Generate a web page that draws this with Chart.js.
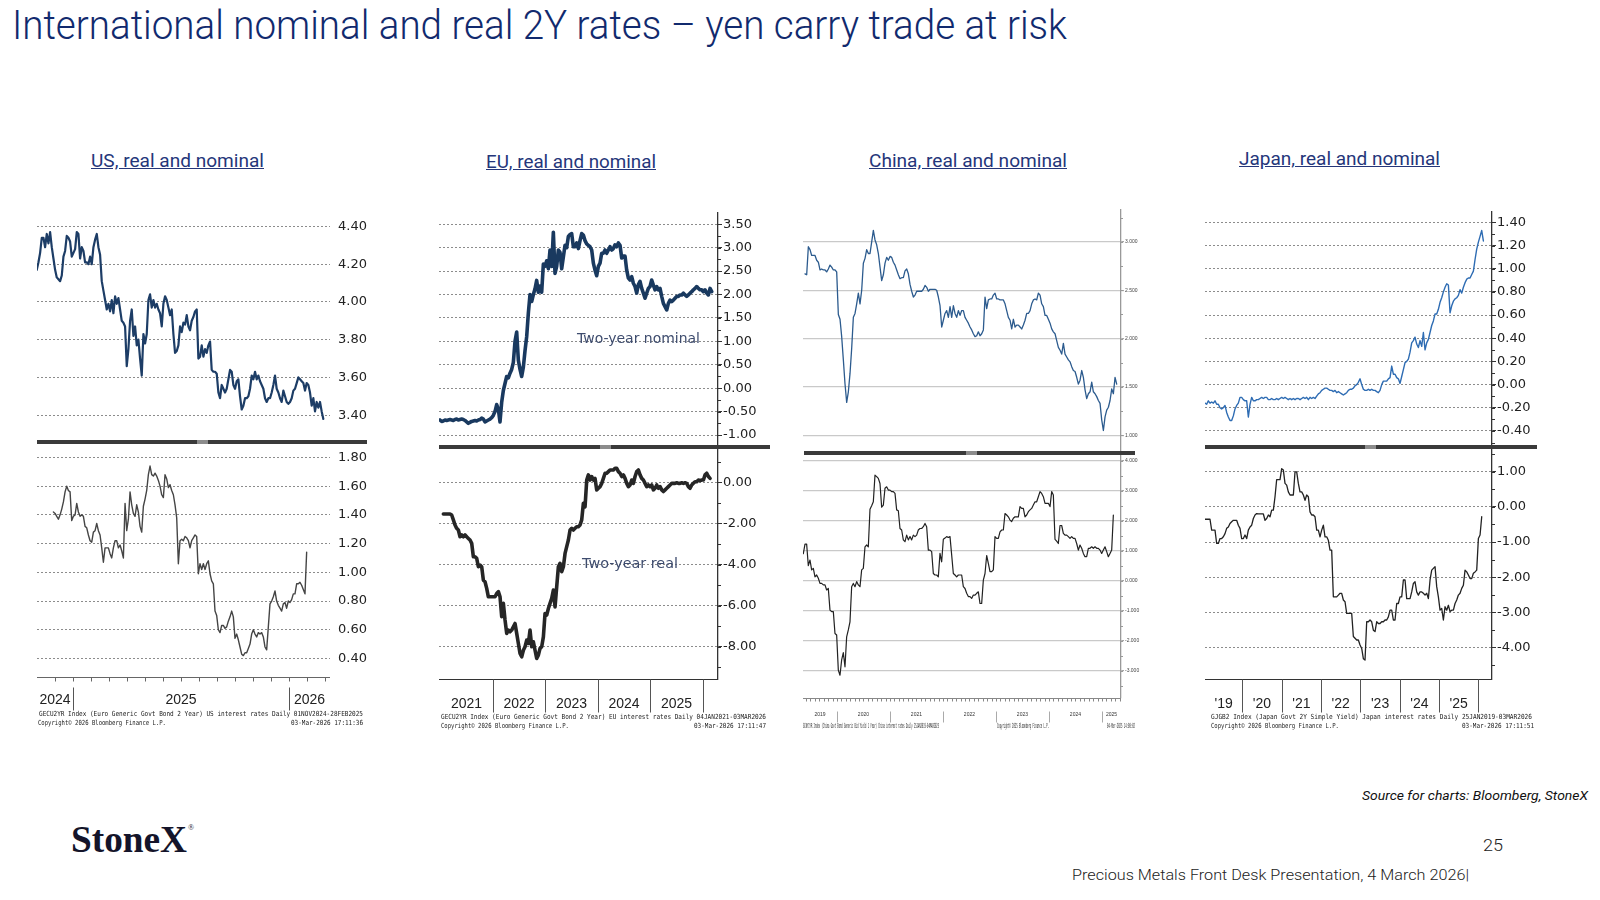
<!DOCTYPE html>
<html><head><meta charset="utf-8">
<script src="https://cdn.jsdelivr.net/npm/chart.js@4.4.1/dist/chart.umd.min.js"></script>
<style>
html,body{margin:0;padding:0}
body{width:1600px;height:900px;background:#fff;position:relative;overflow:hidden;font-family:Roboto,"Open Sans",sans-serif}
.t{position:absolute;white-space:nowrap;line-height:1;transform-origin:0 0}
canvas{position:absolute}
.bar{position:absolute;height:4px;background:#3a3a3a}
.knob{position:absolute;height:4px;background:#8c8c8c}
.bb{font-family:"DejaVu Sans Mono",monospace;color:#222;font-size:7px}
</style></head><body>

<div class="t" data-w="1055" style="left:12px;top:5px;font-size:41px;font-weight:300;color:#112a6e">International nominal and real 2Y rates – yen carry trade at risk</div>

<div class="t" data-w="173" style="left:91px;top:151px;font-size:19px;color:#25367a;text-decoration:underline">US, real and nominal</div>
<div class="t" data-w="170" style="left:486px;top:152px;font-size:19px;color:#25367a;text-decoration:underline">EU, real and nominal</div>
<div class="t" data-w="198" style="left:869px;top:151px;font-size:19px;color:#25367a;text-decoration:underline">China, real and nominal</div>
<div class="t" data-w="201" style="left:1239px;top:149px;font-size:19px;color:#25367a;text-decoration:underline">Japan, real and nominal</div>

<div class="t" data-w="226" style="left:1362px;top:789px;font-size:13px;font-style:italic;color:#111">Source for charts: Bloomberg, StoneX</div>
<div class="t" data-w="116" style="left:71px;top:820px;font-size:38px;font-weight:bold;font-family:'Liberation Serif',serif;color:#14142a">StoneX</div>
<div class="t" style="left:188px;top:824px;font-size:8px;font-family:'Liberation Serif',serif;color:#1b1b2f">®</div>
<div class="t" data-w="20" style="left:1483px;top:837px;font-size:17px;font-weight:300;color:#222">25</div>
<div class="t" data-w="397" style="left:1072px;top:868px;font-size:15px;font-weight:300;color:#222">Precious Metals Front Desk Presentation, 4 March 2026|</div>

<script>
// ---------------- DATA ----------------
// x positions are fractional years; each series is sampled at a regular step
const usStep = 0.007716;
const usNomStart = 2024.832;
const usNominal = [
4.17,4.21,4.26,4.34,4.34,4.29,4.36,4.31,4.37,4.29,
4.23,4.17,4.13,4.12,4.11,4.14,4.24,4.27,4.35,4.34,
4.32,4.24,4.26,4.28,4.37,4.36,4.23,4.29,4.27,4.21,
4.21,4.20,4.24,4.20,4.29,4.33,4.36,4.29,4.25,4.11,
4.06,4.01,3.96,3.99,3.95,4.01,3.94,4.03,3.99,4.02,
3.96,3.90,3.89,3.87,3.66,3.75,3.90,3.96,3.82,3.87,
3.77,3.80,3.70,3.61,3.83,3.78,3.83,4.01,4.04,3.97,
4.01,3.97,3.99,3.96,3.94,3.87,3.99,4.03,4.01,3.97,
3.93,3.96,3.83,3.73,3.74,3.77,3.87,3.84,3.89,3.88,
3.93,3.87,3.85,3.90,3.92,3.95,3.96,3.70,3.71,3.77,
3.71,3.75,3.73,3.77,3.79,3.64,3.63,3.63,3.62,3.52,
3.49,3.56,3.54,3.52,3.54,3.59,3.64,3.63,3.56,3.54,
3.58,3.59,3.50,3.43,3.45,3.49,3.49,3.50,3.54,3.61,
3.59,3.63,3.59,3.61,3.58,3.56,3.54,3.49,3.47,3.49,
3.49,3.52,3.56,3.61,3.54,3.52,3.49,3.47,3.53,3.50,
3.47,3.46,3.47,3.49,3.53,3.54,3.57,3.60,3.59,3.58,
3.57,3.53,3.57,3.56,3.52,3.45,3.49,3.42,3.47,3.44,
3.47,3.42,3.38];
const usRealStart = 2024.909;
const usReal = [
1.42,1.41,1.39,1.37,1.40,1.44,1.49,1.56,1.60,1.57,
1.56,1.36,1.39,1.40,1.48,1.42,1.39,1.40,1.39,1.32,
1.31,1.26,1.22,1.21,1.28,1.29,1.34,1.29,1.26,1.17,
1.07,1.17,1.17,1.17,1.13,1.10,1.17,1.22,1.22,1.17,
1.19,1.15,1.10,1.48,1.29,1.37,1.56,1.47,1.41,1.39,
1.47,1.42,1.32,1.28,1.46,1.51,1.57,1.68,1.74,1.68,
1.67,1.69,1.67,1.64,1.60,1.54,1.52,1.68,1.65,1.59,
1.61,1.57,1.54,1.47,1.38,1.06,1.22,1.23,1.22,1.25,
1.24,1.22,1.17,1.22,1.24,1.26,1.25,0.99,1.06,1.02,
1.06,1.02,1.06,1.08,0.99,0.94,0.92,0.73,0.70,0.60,
0.58,0.63,0.63,0.61,0.62,0.66,0.69,0.73,0.69,0.54,
0.57,0.53,0.48,0.43,0.42,0.44,0.44,0.47,0.50,0.57,
0.60,0.57,0.55,0.58,0.57,0.58,0.55,0.48,0.46,0.62,
0.78,0.80,0.83,0.87,0.80,0.77,0.75,0.73,0.78,0.79,
0.75,0.80,0.79,0.81,0.85,0.85,0.92,0.92,0.93,0.91,
0.88,0.85,1.14];
const usNomTicks = [3.40,3.60,3.80,4.00,4.20,4.40];
const usRealTicks = [0.40,0.60,0.80,1.00,1.20,1.40,1.60,1.80];
const usYears = [2024,2025,2026];
const usYearLabels = ['2024','2025','2026'];
const usBreaks = [2025,2026];

const euStep = 0.03175;
const euNomStart = 2020.996;
const euNominal = [
-0.68,-0.71,-0.70,-0.68,-0.69,-0.68,-0.67,-0.68,-0.69,-0.67,
-0.66,-0.68,-0.67,-0.66,-0.67,-0.69,-0.72,-0.75,-0.73,-0.71,
-0.70,-0.69,-0.70,-0.68,-0.67,-0.64,-0.66,-0.72,-0.70,-0.68,
-0.66,-0.63,-0.58,-0.50,-0.35,-0.45,-0.72,-0.30,-0.05,0.10,
0.25,0.22,0.32,0.40,0.55,1.00,1.20,0.60,0.40,0.25,
0.45,0.80,1.10,1.60,2.00,1.85,2.00,2.12,2.30,2.05,
2.18,2.05,2.65,2.60,2.72,2.55,2.95,2.60,3.33,2.45,
2.60,2.95,2.90,2.55,2.80,3.05,3.00,3.24,3.28,3.30,
3.02,3.02,3.10,2.98,3.15,3.30,3.27,3.15,3.08,3.05,
3.02,2.95,2.67,2.52,2.40,2.60,2.67,2.88,2.88,2.95,
2.88,2.95,3.02,2.95,2.98,3.06,3.02,3.10,3.05,2.78,
2.82,2.82,2.52,2.35,2.31,2.38,2.24,2.17,2.03,2.21,
2.28,2.13,2.03,1.92,2.03,2.13,2.17,2.31,2.20,2.10,
2.17,2.10,2.13,1.96,1.81,1.74,1.67,1.81,1.88,1.85,
1.88,1.92,1.96,1.96,1.99,1.99,2.03,1.99,1.96,1.99,
2.03,2.06,2.10,2.13,2.17,2.13,2.10,2.10,2.06,2.10,
2.03,1.99,2.13,2.06];
const euRealStart = 2021.060;
const euReal = [
-1.54,-1.54,-1.54,-1.54,-1.54,-1.59,-1.83,-2.08,-2.24,-2.32,
-2.65,-2.56,-2.65,-2.56,-2.65,-2.73,-2.81,-2.97,-3.62,-3.62,
-3.70,-4.11,-4.03,-4.11,-4.76,-4.84,-5.16,-5.57,-5.57,-5.57,
-5.57,-5.57,-5.41,-5.32,-5.57,-6.54,-5.89,-6.70,-7.35,-7.19,
-7.27,-7.19,-7.03,-6.87,-7.35,-7.84,-8.33,-8.49,-8.17,-8.00,
-7.68,-7.84,-7.19,-8.00,-7.76,-8.17,-8.57,-8.41,-8.08,-8.00,
-7.52,-6.38,-6.46,-6.14,-5.89,-5.65,-5.24,-6.06,-5.08,-4.11,
-3.94,-4.35,-4.11,-3.46,-3.13,-2.81,-2.32,-2.24,-2.32,-2.24,
-2.16,-2.16,-2.08,-1.83,-1.02,-1.19,0.11,0.36,0.11,0.28,
0.11,0.19,-0.37,-0.29,-0.21,-0.05,0.19,0.44,0.44,0.52,
0.60,0.60,0.60,0.68,0.68,0.52,0.44,0.28,0.36,0.19,
-0.05,-0.21,-0.13,0.11,-0.05,0.28,0.52,0.60,0.36,0.19,
0.11,-0.05,-0.21,-0.13,-0.21,-0.13,-0.37,-0.29,-0.13,-0.29,
-0.21,-0.37,-0.45,-0.37,-0.29,-0.21,-0.13,-0.05,-0.05,-0.05,
-0.02,-0.05,-0.05,-0.02,-0.05,-0.02,-0.05,-0.21,-0.29,-0.13,
-0.05,0.03,0.03,0.11,0.08,0.11,0.11,0.36,0.44,0.28,
0.19];
const euNomTicks = [-1.00,-0.50,0.00,0.50,1.00,1.50,2.00,2.50,3.00,3.50];
const euRealTicks = [-8.00,-6.00,-4.00,-2.00,0.00];
const euYears = [2021,2022,2023,2024,2025];
const euYearLabels = ['2021','2022','2023','2024','2025'];
const euBreaks = [2022,2023,2024,2025,2026];

const cnStep = 0.03145;
const cnNomStart = 2019.398;
const cnNominal = [
2.67,2.66,2.95,2.92,2.86,2.86,2.86,2.81,2.79,2.71,
2.72,2.71,2.71,2.69,2.72,2.76,2.74,2.71,2.71,2.69,
2.25,2.20,2.02,1.78,1.53,1.34,1.45,1.64,1.90,2.22,
2.26,2.36,2.47,2.36,2.50,2.78,2.83,2.92,2.88,2.88,
3.00,3.12,3.02,2.97,2.88,2.74,2.60,2.66,2.78,2.84,
2.81,2.85,2.84,2.79,2.76,2.71,2.66,2.62,2.63,2.63,
2.70,2.72,2.67,2.56,2.49,2.43,2.45,2.49,2.49,2.49,
2.49,2.51,2.55,2.53,2.49,2.51,2.51,2.51,2.51,2.50,
2.43,2.34,2.12,2.19,2.26,2.29,2.22,2.33,2.22,2.34,
2.26,2.22,2.29,2.24,2.29,2.29,2.22,2.19,2.16,2.12,
2.09,2.05,2.02,2.03,2.07,2.03,2.05,2.09,2.43,2.31,
2.40,2.41,2.41,2.45,2.47,2.41,2.41,2.40,2.40,2.40,
2.36,2.29,2.22,2.19,2.10,2.20,2.12,2.14,2.14,2.12,
2.10,2.14,2.19,2.26,2.26,2.29,2.36,2.40,2.41,2.40,
2.47,2.45,2.36,2.33,2.24,2.24,2.20,2.16,2.10,2.07,
2.05,1.98,1.91,1.88,1.84,1.95,1.84,1.81,1.78,1.76,
1.71,1.67,1.66,1.60,1.53,1.57,1.67,1.60,1.47,1.38,
1.43,1.45,1.55,1.45,1.43,1.40,1.36,1.33,1.16,1.05,
1.19,1.26,1.29,1.36,1.48,1.43,1.60,1.53];
const cnRealStart = 2019.366;
const cnReal = [
0.90,1.22,1.22,0.50,0.69,0.36,0.41,0.13,0.19,0.08,
-0.09,-0.09,-0.14,-0.14,-0.31,-0.26,-0.98,-1.03,-1.03,-1.76,
-1.81,-2.98,-3.15,-2.64,-2.40,-2.87,-1.87,-1.64,-1.37,-0.20,
-0.09,-0.20,-0.03,-0.14,-0.20,0.36,0.41,1.13,1.19,1.13,
2.38,2.50,2.63,3.52,3.47,3.41,3.24,2.45,2.52,3.08,
3.13,3.02,3.02,2.97,2.97,2.91,2.36,2.33,1.74,1.69,
1.36,1.30,1.52,1.36,1.47,1.36,1.52,1.47,1.52,1.69,
1.74,1.74,1.80,1.91,1.80,1.02,1.02,0.97,0.24,0.19,
0.19,0.13,0.91,0.63,1.38,1.42,1.47,1.44,1.47,0.86,
0.24,0.19,0.13,0.19,0.19,0.19,-0.20,-0.26,-0.42,-0.53,
-0.53,-0.59,-0.48,-0.48,-0.42,-0.37,-0.76,-0.76,0.02,0.24,
0.84,0.58,0.30,0.30,0.36,1.47,1.41,1.41,1.63,1.69,
1.69,2.24,2.19,2.13,2.02,1.97,2.08,2.13,2.13,2.13,
2.47,2.41,2.41,2.13,2.19,2.30,2.36,2.41,2.52,2.63,
2.63,2.80,2.97,2.91,2.80,2.58,2.58,2.58,2.47,2.97,
2.86,1.38,1.32,1.24,1.84,1.84,1.58,1.52,1.52,1.47,
1.41,1.47,1.41,1.41,1.24,1.02,1.19,1.08,0.91,0.80,
0.80,1.08,1.08,1.13,1.08,1.13,1.08,1.08,1.02,0.91,
1.02,1.13,0.97,0.80,0.91,1.02,2.19];
const cnNomTicks = [1.0,1.5,2.0,2.5,3.0];
const cnRealTicks = [-3,-2,-1,0,1,2,3,4];
const cnYears = [2019,2020,2021,2022,2023,2024,2025];
const cnYearLabels = ['2019','2020','2021','2022','2023','2024','2025'];
const cnBreaks = [2020,2021,2022,2023,2024,2025];

const jpStep = 0.04236;
const jpStart = 2019.052;
const jpNominal = [
-0.16,-0.17,-0.14,-0.16,-0.15,-0.16,-0.14,-0.17,-0.17,-0.20,
-0.21,-0.20,-0.18,-0.24,-0.28,-0.31,-0.31,-0.27,-0.21,-0.18,
-0.16,-0.11,-0.11,-0.13,-0.14,-0.14,-0.28,-0.17,-0.11,-0.14,
-0.14,-0.13,-0.13,-0.12,-0.11,-0.12,-0.11,-0.11,-0.13,-0.13,
-0.12,-0.13,-0.13,-0.12,-0.13,-0.12,-0.11,-0.12,-0.11,-0.12,
-0.13,-0.12,-0.13,-0.12,-0.13,-0.12,-0.12,-0.13,-0.12,-0.11,
-0.12,-0.11,-0.13,-0.11,-0.12,-0.11,-0.12,-0.10,-0.08,-0.07,
-0.05,-0.04,-0.03,-0.03,-0.04,-0.05,-0.05,-0.06,-0.05,-0.07,
-0.06,-0.07,-0.08,-0.09,-0.08,-0.07,-0.05,-0.04,-0.04,-0.03,
-0.01,0.00,0.02,0.05,0.00,-0.04,-0.05,-0.05,-0.04,-0.05,
-0.04,-0.05,-0.05,-0.06,-0.07,-0.05,0.00,0.03,0.03,0.03,
0.05,0.06,0.16,0.09,0.09,0.06,0.05,0.01,0.07,0.13,
0.19,0.20,0.22,0.28,0.36,0.38,0.41,0.35,0.32,0.38,
0.33,0.45,0.30,0.36,0.39,0.45,0.51,0.55,0.61,0.61,
0.65,0.71,0.75,0.80,0.84,0.87,0.86,0.62,0.68,0.72,
0.74,0.75,0.77,0.82,0.79,0.84,0.88,0.91,0.92,0.92,
0.95,0.98,1.08,1.17,1.23,1.28,1.33,1.24];
const jpReal = [
-0.35,-0.35,-0.35,-0.35,-0.66,-0.66,-0.66,-1.04,-1.04,-0.90,
-0.90,-0.85,-0.76,-0.61,-0.57,-0.47,-0.42,-0.38,-0.38,-0.38,
-0.52,-0.61,-0.90,-0.90,-0.80,-0.90,-0.66,-0.57,-0.52,-0.33,
-0.23,-0.19,-0.20,-0.20,-0.20,-0.20,-0.38,-0.33,-0.23,-0.28,
-0.09,-0.09,0.29,0.78,0.78,0.78,1.09,1.05,0.67,0.62,
0.43,0.34,0.34,0.34,1.00,1.00,0.67,0.43,0.43,0.34,
0.19,0.34,0.29,-0.14,-0.23,-0.23,-0.28,-0.66,-0.66,-0.85,
-0.66,-0.52,-0.85,-0.85,-0.95,-1.23,-1.23,-2.56,-2.56,-2.56,
-2.51,-2.46,-2.46,-2.65,-2.70,-3.03,-3.03,-3.03,-3.03,-3.69,
-3.74,-3.79,-3.79,-3.93,-4.03,-4.32,-4.36,-3.27,-3.27,-3.22,
-3.27,-3.51,-3.55,-3.27,-3.32,-3.32,-3.27,-3.27,-3.22,-3.22,
-3.13,-2.94,-2.94,-3.22,-3.22,-2.75,-2.75,-2.56,-2.56,-2.08,
-2.08,-2.61,-2.61,-2.61,-2.42,-2.18,-2.13,-2.42,-2.51,-2.42,
-2.42,-2.46,-2.51,-2.46,-2.61,-2.08,-1.80,-1.75,-1.70,-2.27,
-2.56,-2.94,-2.89,-3.22,-2.84,-2.94,-2.80,-2.98,-2.94,-2.94,
-2.75,-2.65,-2.51,-2.46,-2.32,-2.23,-1.80,-1.85,-1.94,-2.04,
-2.04,-1.89,-1.85,-1.80,-0.90,-0.80,-0.28];
const jpNomTicks = [-0.40,-0.20,0.00,0.20,0.40,0.60,0.80,1.00,1.20,1.40];
const jpRealTicks = [-4.00,-3.00,-2.00,-1.00,0.00,1.00];
const jpYears = [2019,2020,2021,2022,2023,2024,2025];
const jpYearLabels = ["'19","'20","'21","'22","'23","'24","'25"];
const jpBreaks = [2020,2021,2022,2023,2024,2025,2026];

// ---------------- RENDERING ----------------
const deco = {
  id: 'deco',
  afterDraw(chart, args, o) {
    if (!o) return;
    const ctx = chart.ctx, ca = chart.chartArea, xs = chart.scales.x, ys = chart.scales.y;
    ctx.save();
    if (o.minorStep) {
      ctx.strokeStyle = o.axisColor; ctx.lineWidth = 1;
      const n0 = Math.ceil(ys.min / o.minorStep - 1e-9), n1 = Math.floor(ys.max / o.minorStep + 1e-9);
      for (let k = n0; k <= n1; k++) {
        const y = Math.round(ys.getPixelForValue(k * o.minorStep)) + 0.5;
        ctx.beginPath(); ctx.moveTo(ca.right, y); ctx.lineTo(ca.right + o.minorLen, y); ctx.stroke();
      }
    }
    const b = o.bottom;
    if (b) {
      const y0 = Math.round(ca.bottom) + 0.5;
      ctx.strokeStyle = b.color; ctx.lineWidth = 1;
      ctx.beginPath(); ctx.moveTo(ca.left, y0); ctx.lineTo(ca.right, y0); ctx.stroke();
      if (b.monthTicks) {
        const m0 = Math.ceil(xs.min * 12 - 1e-6), m1 = Math.floor(xs.max * 12 + 1e-6);
        for (let m = m0; m <= m1; m++) {
          const x = Math.round(xs.getPixelForValue(m / 12)) + 0.5;
          if (x <= ca.left + 1 || x >= ca.right) continue;
          ctx.beginPath(); ctx.moveTo(x, y0); ctx.lineTo(x, y0 + b.monthTicks); ctx.stroke();
        }
      }
      ctx.strokeStyle = b.sepColor;
      for (const yr of b.breaks) {
        const x = Math.round(xs.getPixelForValue(yr)) + 0.5;
        ctx.beginPath(); ctx.moveTo(x, y0 + b.sepFrom); ctx.lineTo(x, y0 + b.sepTo); ctx.stroke();
      }
      ctx.fillStyle = b.labelColor; ctx.font = b.font; ctx.textAlign = 'center'; ctx.textBaseline = 'middle';
      b.labels.forEach((lab, i) => {
        const a = Math.max(b.years[i], xs.min), c = Math.min(b.years[i] + 1, xs.max);
        ctx.fillText(lab, xs.getPixelForValue((a + c) / 2), y0 + b.labelY);
      });
    }
    ctx.restore();
  }
};

function toPoints(start, step, values) {
  return values.map((v, i) => ({x: start + i * step, y: v}));
}

function makeChart(c) {
  const padT = 14, padB = c.bottom ? 45 : 14;
  const cv = document.createElement('canvas');
  const W = c.r - c.l + c.aw + 4;
  const H = c.b - c.t + padT + padB;
  cv.width = W; cv.height = H;
  cv.style.left = c.l + 'px'; cv.style.top = (c.t - padT) + 'px';
  cv.style.width = W + 'px'; cv.style.height = H + 'px';
  document.body.appendChild(cv);
  new Chart(cv.getContext('2d'), {
    type: 'line',
    data: {datasets: [{data: c.data, borderColor: c.color, borderWidth: c.lw, pointRadius: 0,
      tension: 0, fill: false, borderJoinStyle: 'round', borderCapStyle: 'round'}]},
    options: {
      responsive: false, animation: false, devicePixelRatio: 1, events: [],
      layout: {padding: {left: 0, right: 4, top: padT, bottom: padB}},
      plugins: {legend: {display: false}, tooltip: {enabled: false}, deco: c.deco},
      scales: {
        x: {type: 'linear', display: false, min: c.xMin, max: c.xMax},
        y: {
          position: 'right', min: c.yMin, max: c.yMax,
          afterFit: s => { s.width = c.aw; },
          afterBuildTicks: s => { s.ticks = c.ticks.map(v => ({value: v})); },
          ticks: {autoSkip: false, font: c.font, color: c.labelColor || '#222', padding: c.labelPad,
                  callback: v => Number(v).toFixed(c.dec)},
          grid: {color: c.gridColor, lineWidth: c.gridWidth || 1, drawTicks: c.tickLen > 0,
                 tickLength: c.tickLen, tickColor: c.axisColor, tickWidth: 1},
          border: {display: c.axisLine, color: c.axisColor, width: 1.3, dash: c.dash}
        }
      }
    },
    plugins: [deco]
  });
}

const dejavu13 = {family: 'DejaVu Sans', size: 13};
const dotted = [2, 2];

// US
makeChart({l: 37, r: 330, t: 205, b: 440, aw: 40, xMin: 2024.833, xMax: 2026.190, yMin: 3.278, yMax: 4.504,
  ticks: usNomTicks, dec: 2, data: toPoints(usNomStart, usStep, usNominal), color: '#1d3d66', lw: 2.2,
  font: dejavu13, labelPad: 8, gridColor: '#8c8c8c', dash: dotted, axisLine: false, tickLen: 0, axisColor: '#555'});
makeChart({l: 37, r: 330, t: 446, b: 677, aw: 40, xMin: 2024.833, xMax: 2026.190, yMin: 0.271, yMax: 1.867,
  ticks: usRealTicks, dec: 2, data: toPoints(usRealStart, usStep, usReal), color: '#454545', lw: 1.4,
  font: dejavu13, labelPad: 8, gridColor: '#8c8c8c', dash: dotted, axisLine: false, tickLen: 0, axisColor: '#555',
  bottom: true,
  deco: {bottom: {color: '#666', monthTicks: 4, breaks: usBreaks, sepColor: '#555', sepFrom: 10, sepTo: 33,
    years: usYears, labels: usYearLabels, labelY: 23, font: '14px "Liberation Sans"', labelColor: '#222'}}});

// EU
makeChart({l: 439, r: 718, t: 213, b: 447, aw: 45, xMin: 2020.977, xMax: 2026.291, yMin: -1.256, yMax: 3.74,
  ticks: euNomTicks, dec: 2, data: toPoints(euNomStart, euStep, euNominal), color: '#19395f', lw: 3.6,
  font: dejavu13, labelPad: 1, gridColor: '#8c8c8c', dash: dotted, axisLine: true, tickLen: 4, axisColor: '#333',
  deco: {minorStep: 0.25, minorLen: 3, axisColor: '#333'}});
makeChart({l: 439, r: 718, t: 449, b: 679, aw: 45, xMin: 2020.977, xMax: 2026.291, yMin: -9.57, yMax: 1.62,
  ticks: euRealTicks, dec: 2, data: toPoints(euRealStart, euStep, euReal), color: '#262626', lw: 3.6,
  font: dejavu13, labelPad: 1, gridColor: '#8c8c8c', dash: dotted, axisLine: true, tickLen: 4, axisColor: '#333',
  bottom: true,
  deco: {minorStep: 1, minorLen: 3, axisColor: '#333',
    bottom: {color: '#333', monthTicks: 0, breaks: euBreaks, sepColor: '#555', sepFrom: 0, sepTo: 33,
      years: euYears, labels: euYearLabels, labelY: 25, font: '14px "Liberation Sans"', labelColor: '#222'}}});

// China
const tiny = {family: 'Liberation Sans', size: 5};
makeChart({l: 803, r: 1121, t: 210, b: 453, aw: 25, xMin: 2019.36, xMax: 2025.36, yMin: 0.817, yMax: 3.33,
  ticks: cnNomTicks, dec: 3, data: toPoints(cnNomStart, cnStep, cnNominal), color: '#2c5b8e', lw: 1.3,
  font: tiny, labelColor: '#444', labelPad: 1, gridColor: '#c9c9c9', gridWidth: 1.3, dash: [], axisLine: true,
  tickLen: 3, axisColor: '#999', deco: {minorStep: 0.25, minorLen: 2, axisColor: '#999'}});
makeChart({l: 803, r: 1121, t: 455, b: 698, aw: 25, xMin: 2019.36, xMax: 2025.36, yMin: -3.91, yMax: 4.19,
  ticks: cnRealTicks, dec: 3, data: toPoints(cnRealStart, cnStep, cnReal), color: '#222', lw: 1.2,
  font: tiny, labelColor: '#444', labelPad: 1, gridColor: '#c9c9c9', gridWidth: 1.3, dash: [], axisLine: true,
  tickLen: 3, axisColor: '#999', bottom: true,
  deco: {minorStep: 0.5, minorLen: 2, axisColor: '#999',
    bottom: {color: '#888', monthTicks: 3, breaks: cnBreaks, sepColor: '#aaa', sepFrom: 13, sepTo: 24,
      years: cnYears, labels: cnYearLabels, labelY: 16, font: '5px "Liberation Sans"', labelColor: '#333'}}});

// Japan
makeChart({l: 1205, r: 1492, t: 212, b: 446, aw: 45, xMin: 2019.052, xMax: 2026.345, yMin: -0.53, yMax: 1.49,
  ticks: jpNomTicks, dec: 2, data: toPoints(jpStart, jpStep, jpNominal), color: '#2e6cb3', lw: 1.4,
  font: dejavu13, labelPad: 1, gridColor: '#8c8c8c', dash: dotted, axisLine: true, tickLen: 4, axisColor: '#333',
  deco: {minorStep: 0.1, minorLen: 3, axisColor: '#333'}});
makeChart({l: 1205, r: 1492, t: 449, b: 679, aw: 45, xMin: 2019.052, xMax: 2026.345, yMin: -4.90, yMax: 1.65,
  ticks: jpRealTicks, dec: 2, data: toPoints(jpStart, jpStep, jpReal), color: '#222', lw: 1.3,
  font: dejavu13, labelPad: 1, gridColor: '#8c8c8c', dash: dotted, axisLine: true, tickLen: 4, axisColor: '#333',
  bottom: true,
  deco: {minorStep: 0.5, minorLen: 3, axisColor: '#333',
    bottom: {color: '#333', monthTicks: 0, breaks: jpBreaks, sepColor: '#555', sepFrom: 0, sepTo: 33,
      years: jpYears, labels: jpYearLabels, labelY: 25, font: '14px "Liberation Sans"', labelColor: '#222'}}});

// ------------- decorations (separator bars, in-chart notes, Bloomberg footers) -------------
function add(html) { document.body.insertAdjacentHTML('beforeend', html); }
[[37, 440, 330, 160], [439, 445, 331, 161], [804, 451, 331, 162], [1205, 445, 332, 160]].forEach(([l, t, w, k]) => {
  add(`<div class="bar" style="left:${l}px;top:${t}px;width:${w}px"></div>`);
  add(`<div class="knob" style="left:${l + k}px;top:${t}px;width:11px"></div>`);
});
add(`<div class="t" data-w="123" style="left:577px;top:331px;font-size:14px;font-family:'DejaVu Sans';color:#3e4c6e">Two-year nominal</div>`);
add(`<div class="t" data-w="96" style="left:582px;top:556px;font-size:14px;font-family:'DejaVu Sans';color:#3e4c6e">Two-year real</div>`);

function foot(left, top, w, text, right) {
  add(`<div class="t bb" data-w="${w}" ${right ? 'data-right="' + right + '"' : ''} style="left:${left}px;top:${top}px">${text}</div>`);
}
foot(39, 711, 324, 'GECU2YR Index (Euro Generic Govt Bond 2 Year) US interest rates Daily 01NOV2024-28FEB2025');
foot(38, 720, 128, 'Copyright© 2026 Bloomberg Finance L.P.');
foot(0, 720, 72, '03-Mar-2026 17:11:36', 363);
foot(441, 714, 325, 'GECU2YR Index (Euro Generic Govt Bond 2 Year) EU interest rates Daily 04JAN2021-03MAR2026');
foot(441, 723, 128, 'Copyright© 2026 Bloomberg Finance L.P.');
foot(0, 723, 72, '03-Mar-2026 17:11:47', 766);
foot(1211, 714, 321, 'GJGB2 Index (Japan Govt 2Y Simple Yield) Japan interest rates Daily 25JAN2019-03MAR2026');
foot(1211, 723, 128, 'Copyright© 2026 Bloomberg Finance L.P.');
foot(0, 723, 72, '03-Mar-2026 17:11:51', 1534);
foot(803, 723, 136, 'GCNY1YR Index (China Govt Bond Generic Bid Yield 1 Year) China interest rates Daily 25JAN2019-04MAR2025');
foot(997, 723, 52, 'Copyright© 2025 Bloomberg Finance L.P.');
foot(0, 723, 28, '04-Mar-2025 14:08:02', 1135);

function fitAll() {
  document.querySelectorAll('[data-w]').forEach(el => {
    el.style.transform = 'none';
    const nat = el.getBoundingClientRect().width;
    const w = parseFloat(el.dataset.w);
    if (el.dataset.right) el.style.left = (parseFloat(el.dataset.right) - w) + 'px';
    el.style.transform = `scaleX(${w / nat})`;
  });
}
fitAll();
if (document.fonts && document.fonts.ready) document.fonts.ready.then(fitAll);
</script>
</body></html>
